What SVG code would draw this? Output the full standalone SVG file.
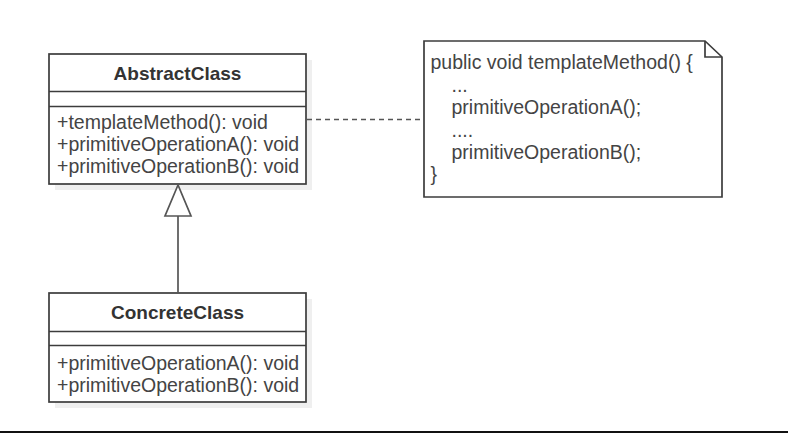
<svg xmlns="http://www.w3.org/2000/svg" width="788" height="433" viewBox="0 0 788 433">
<style>
.box{fill:#ffffff;stroke:#3c3c3c;stroke-width:1.7}
.shadow{fill:#efefef}
.sep{stroke:#3c3c3c;stroke-width:1.7;fill:none}
.title{font-family:"Liberation Sans",Arial,sans-serif;font-size:19px;font-weight:bold;fill:#333333;text-anchor:middle}
.member{font-family:"Liberation Sans",Arial,sans-serif;font-size:19.5px;fill:#444444}
.edge{stroke:#555555;stroke-width:1.7;fill:none}
</style>
<rect width="788" height="433" fill="#ffffff"/>
<g id="AbstractClass">
<rect class="shadow" x="55" y="60" width="257" height="130"/>
<rect class="box" x="49" y="54" width="257" height="130"/>
<line class="sep" x1="49" y1="91.5" x2="306" y2="91.5"/>
<line class="sep" x1="49" y1="106.5" x2="306" y2="106.5"/>
<text class="title" x="177.5" y="79.5">AbstractClass</text>
<text class="member" x="57" y="129">+templateMethod(): void</text>
<text class="member" x="57" y="151">+primitiveOperationA(): void</text>
<text class="member" x="57" y="173">+primitiveOperationB(): void</text>
</g>
<g id="ConcreteClass">
<rect class="shadow" x="55" y="299" width="257" height="109"/>
<rect class="box" x="49" y="293" width="257" height="109"/>
<line class="sep" x1="49" y1="331.5" x2="306" y2="331.5"/>
<line class="sep" x1="49" y1="345.5" x2="306" y2="345.5"/>
<text class="title" x="177.5" y="319">ConcreteClass</text>
<text class="member" x="57" y="369.5">+primitiveOperationA(): void</text>
<text class="member" x="57" y="391.5">+primitiveOperationB(): void</text>
</g>
<g id="Note">
<path class="box" d="M424,41 L705,41 L722,57 L722,197 L424,197 Z"/>
<path class="sep" d="M705,41 L705,57 L722,57"/>
<text class="member" x="430.5" y="69">public void templateMethod() {</text>
<text class="member" x="451.5" y="91.5">...</text>
<text class="member" x="451.5" y="114">primitiveOperationA();</text>
<text class="member" x="451.5" y="136.5">....</text>
<text class="member" x="451.5" y="159">primitiveOperationB();</text>
<text class="member" x="430.5" y="181">}</text>
</g>
<g id="connectors">
<line class="edge" x1="178" y1="216" x2="178" y2="293"/>
<polygon class="edge" points="178,185 165,216 191,216" style="fill:#ffffff"/>
<line class="edge" x1="307" y1="119.5" x2="424" y2="119.5" stroke-dasharray="5 4"/>
</g>
<rect x="0" y="431" width="788" height="2" fill="#111111"/>
</svg>
